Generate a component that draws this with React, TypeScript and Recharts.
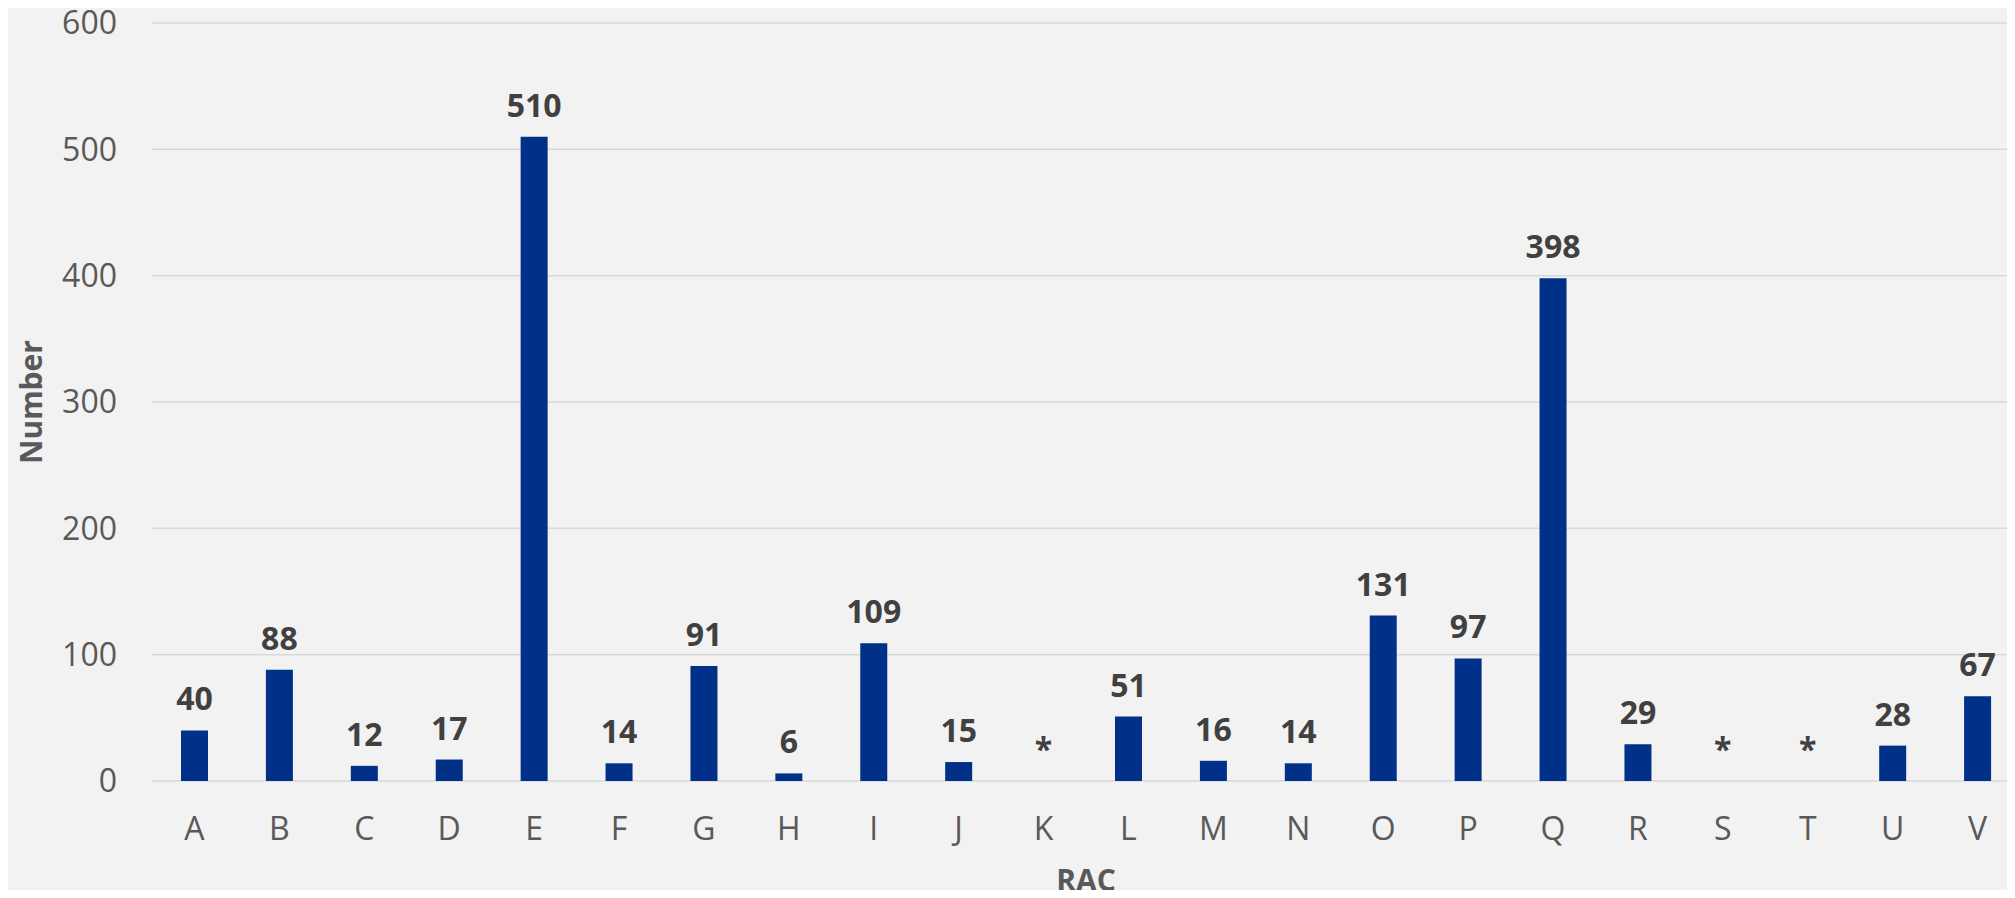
import React from 'react'
import { BarChart, Bar, XAxis, YAxis, CartesianGrid, LabelList, ReferenceDot } from 'recharts'

// RAC categories, counts (null = suppressed, shown as *)
const categories = ['A', 'B', 'C', 'D', 'E', 'F', 'G', 'H', 'I', 'J', 'K', 'L', 'M', 'N', 'O', 'P', 'Q', 'R', 'S', 'T', 'U', 'V']
const counts: (number | null)[] = [40, 88, 12, 17, 510, 14, 91, 6, 109, 15, null, 51, 16, 14, 131, 97, 398, 29, null, null, 28, 67]
const yTicks = [0, 100, 200, 300, 400, 500, 600]
const suppressedMark = '*'

const data = categories.map((rac, i) => ({ rac, count: counts[i] }))
const suppressed = categories.filter((_, i) => counts[i] === null)

const FONT = '"Open Sans", sans-serif'

const App = () => {
  return (
    <div style={{ margin: -8, width: 2015, height: 898, overflow: 'hidden', background: '#f2f2f2' }}>
      <BarChart
        width={2025}
        height={898}
        data={data}
        margin={{ top: 23, right: 5, bottom: 0, left: 0 }}
        style={{ fontFamily: FONT }}
      >
        <CartesianGrid vertical={false} stroke="#d9d9d9" strokeWidth={1.5} />
        <XAxis
          dataKey="rac"
          height={117}
          axisLine={false}
          tickLine={false}
          tickMargin={30}
          interval={0}
          tick={{ fill: '#595959', fontSize: 32, fontFamily: FONT }}
          label={{
            value: 'RAC',
            position: 'insideBottom',
            offset: 7,
            style: { fill: '#595959', fontSize: 30, fontWeight: 700, fontFamily: FONT },
          }}
        />
        <YAxis
          width={152}
          domain={[0, 600]}
          ticks={yTicks}
          axisLine={false}
          tickLine={false}
          tickMargin={29}
          tick={{ fill: '#595959', fontSize: 32, fontFamily: FONT }}
          label={{
            value: 'Number',
            angle: -90,
            position: 'insideLeft',
            offset: 31,
            style: { textAnchor: 'middle', fill: '#595959', fontSize: 30, fontWeight: 700, fontFamily: FONT },
          }}
        />
        <Bar dataKey="count" fill="#003087" barSize={27} isAnimationActive={false}>
          <LabelList
            dataKey="count"
            position="top"
            offset={20}
            style={{ fill: '#404040', fontSize: 32, fontWeight: 700, fontFamily: FONT }}
          />
        </Bar>
        {suppressed.map((rac) => (
          <ReferenceDot
            key={rac}
            x={rac}
            y={0}
            r={0}
            fill="none"
            stroke="none"
            label={{
              value: suppressedMark,
              position: 'top',
              offset: 20,
              style: { fill: '#404040', fontSize: 32, fontWeight: 700, fontFamily: FONT },
            }}
          />
        ))}
      </BarChart>
    </div>
  )
}

export default App
